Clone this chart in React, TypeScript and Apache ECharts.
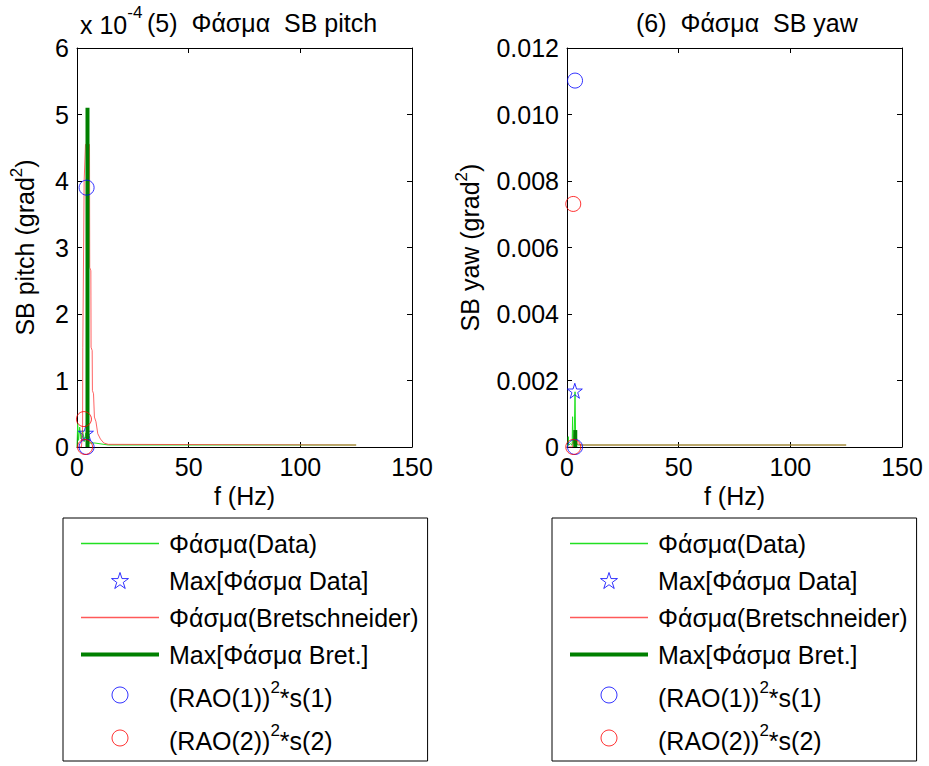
import React, { useEffect, useRef } from 'react';
import * as echarts from 'echarts';

const FONT = "'Liberation Sans', Arial, Helvetica, sans-serif";

// ---------- names ----------
const NAME_DATA = 'Φάσμα(Data)';
const NAME_MAXDATA = 'Max[Φάσμα Data]';
const NAME_BRET = 'Φάσμα(Bretschneider)';
const NAME_MAXBRET = 'Max[Φάσμα Bret.]';
const NAME_RAO1 = '(RAO(1))^2*s(1)';
const NAME_RAO2 = '(RAO(2))^2*s(2)';

// ---------- axis ticks ----------
const xTicks = [0, 50, 100, 150];
const pitchTicks = [0, 1, 2, 3, 4, 5, 6]; // x 10^-4
const yawTicks = [0, 0.002, 0.004, 0.006, 0.008, 0.01, 0.012];

// ---------- (5) SB pitch, values in units of 10^-4 grad^2 ----------
const pitchDataF = [0, 0.3, 0.7, 1.2, 1.8, 2.5, 3.2, 4.0, 4.8, 8, 14, 125];
const pitchDataV = [0, 0.35, 0.1, 0.3, 0.12, 0.25, 0.08, 0.21, 0.06, 0.06, 0.03, 0.03];
const pitchMaxDataF = [4.0];
const pitchMaxDataV = [0.21];
const pitchBretF = [0, 2.0, 2.5, 2.6, 3.2, 3.8, 5.6, 5.7, 6.2, 6.3, 6.8, 6.9, 7.4, 7.8, 8.5, 9.3, 10.5, 12, 14, 125];
const pitchBretV = [0, 0, 0.3, 1.5, 4.0, 4.55, 4.55, 2.7, 2.65, 1.5, 1.45, 0.85, 0.8, 0.45, 0.38, 0.2, 0.12, 0.06, 0.04, 0.03];
const pitchMaxBretF = [4.7, 4.7];
const pitchMaxBretV = [0, 5.1];
const pitchRao1F = [4.3, 4.3];
const pitchRao1V = [3.9, 0];
const pitchRao2F = [3.1, 3.6];
const pitchRao2V = [0.42, 0];

// ---------- (6) SB yaw, values in grad^2 ----------
const yawDataF = [0, 0.5, 0.6, 0.7, 1.5, 2.3, 2.5, 2.7, 3.2, 3.6, 3.9, 5, 7, 125];
const yawDataV = [0, 0.0001, 0.00031, 0.00005, 0.0001, 0.00005, 0.00091, 0.0001, 0.0002, 0.00166, 0.0001, 0.00006, 0.00006, 0.00006];
const yawMaxDataF = [3.5];
const yawMaxDataV = [0.00169];
const yawBretF = [0, 2.5, 3.3, 4.0, 4.6, 6.6, 125];
const yawBretV = [0, 0, 0.0004, 0.0004, 0.0001, 0.00006, 0.00006];
const yawMaxBretF = [3.7, 3.7];
const yawMaxBretV = [0, 0.00051];
const yawRao1F = [3.6, 3.6];
const yawRao1V = [0.01102, 0];
const yawRao2F = [2.8, 2.8];
const yawRao2V = [0.00731, 0];

const pairs = (xs: number[], ys: number[]) => xs.map((x, i) => [x, ys[i]]);

const STAR = 'path://M50,2 L61.2,36.2 L97.6,36.2 L68.2,57.6 L79.4,91.8 L50,70.6 L20.6,91.8 L31.8,57.6 L2.4,36.2 L38.8,36.2 Z';

const GRIDS = [
  { left: 77, top: 48, width: 335, height: 399 },
  { left: 567, top: 48, width: 335, height: 399 },
];

const GREEN_LIGHT = '#22e022';
const RED = '#ff3030';

function buildSeries(g: number, d: {
  dF: number[]; dV: number[]; mF: number[]; mV: number[];
  bF: number[]; bV: number[]; mbF: number[]; mbV: number[];
  r1F: number[]; r1V: number[]; r2F: number[]; r2V: number[];
}) {
  const ax = { xAxisIndex: g * 2, yAxisIndex: g * 2 };
  return [
    { ...ax, name: NAME_DATA, type: 'line', symbol: 'none', showSymbol: false, data: pairs(d.dF, d.dV),
      lineStyle: { color: GREEN_LIGHT, width: 1 }, itemStyle: { color: GREEN_LIGHT }, z: 2 },
    { ...ax, name: NAME_MAXDATA, type: 'scatter', symbol: STAR, symbolSize: 15, data: pairs(d.mF, d.mV),
      itemStyle: { color: 'rgba(0,0,0,0)', borderColor: '#0000ff', borderWidth: 1 }, z: 3 },
    { ...ax, name: NAME_BRET, type: 'line', symbol: 'none', showSymbol: false, data: pairs(d.bF, d.bV),
      lineStyle: { color: RED, width: 1, opacity: 0.75 }, itemStyle: { color: RED }, z: 4 },
    { ...ax, name: NAME_MAXBRET, type: 'line', symbol: 'none', showSymbol: false, data: pairs(d.mbF, d.mbV),
      lineStyle: { color: '#008000', width: 4 }, itemStyle: { color: '#008000' }, z: 5 },
    { ...ax, name: NAME_RAO1, type: 'scatter', symbol: 'circle', symbolSize: 15, data: pairs(d.r1F, d.r1V),
      itemStyle: { color: 'rgba(0,0,0,0)', borderColor: '#0000ff', borderWidth: 1 }, z: 6 },
    { ...ax, name: NAME_RAO2, type: 'scatter', symbol: 'circle', symbolSize: 15, data: pairs(d.r2F, d.r2V),
      itemStyle: { color: 'rgba(0,0,0,0)', borderColor: '#ff0000', borderWidth: 1 }, z: 7 },
  ];
}

const axisLineStyle = { lineStyle: { color: '#000', width: 1 } };
const labelStyle = { color: '#000', fontSize: 25, fontFamily: FONT };

// rich text styles: base token and raised superscript token (both bottom-aligned)
const base = (lh: number, extra: object = {}) => ({
  fontSize: 25, lineHeight: lh, verticalAlign: 'bottom', color: '#000', fontFamily: FONT, ...extra,
});
const sup = (raise: number) => ({
  fontSize: 17, lineHeight: 17, verticalAlign: 'bottom', padding: [0, 0, raise, 0], color: '#000', fontFamily: FONT,
});

function xAxes(g: number) {
  const b = {
    gridIndex: g, type: 'value', min: xTicks[0], max: xTicks[xTicks.length - 1], interval: 50,
    splitLine: { show: false }, axisLine: { show: true, onZero: false, ...axisLineStyle },
    axisTick: { show: true, inside: true, length: 5, lineStyle: { color: '#000' } },
  };
  return [
    { ...b, position: 'bottom', axisLabel: { ...labelStyle, margin: 7 },
      name: 'f (Hz)', nameLocation: 'middle', nameGap: 36,
      nameTextStyle: { color: '#000', fontSize: 25, fontFamily: FONT } },
    { ...b, position: 'top', axisLabel: { show: false } },
  ];
}

function yAxes(g: number, ticks: number[], interval: number, name: string, gap: number, fmt: (v: number) => string) {
  const b = {
    gridIndex: g, type: 'value', min: ticks[0], max: ticks[ticks.length - 1], interval,
    splitLine: { show: false }, axisLine: { show: true, onZero: false, ...axisLineStyle },
    axisTick: { show: true, inside: true, length: 5, lineStyle: { color: '#000' } },
  };
  return [
    { ...b, position: 'left', axisLabel: { ...labelStyle, margin: 8, formatter: fmt },
      name, nameLocation: 'middle', nameGap: gap, nameRotate: 90,
      nameTextStyle: {
        color: '#000', fontFamily: FONT,
        rich: { t: base(30), s: sup(12) },
      } },
    { ...b, position: 'right', axisLabel: { show: false } },
  ];
}

function legendFormatter(name: string) {
  const m = name.match(/^(.*)\^2(.*)$/);
  if (m) return `{f|${m[1]}}{s|2}{r|${m[2]}}`;
  return `{p|${name}}`;
}

const hiddenSymbol = { opacity: 0 };

function legend(left: number) {
  return {
    left, top: 518, orient: 'vertical', selectedMode: false,
    itemWidth: 78, itemHeight: 16, itemGap: 12,
    padding: [13, 9, 8, 16], borderColor: '#000', borderWidth: 1, backgroundColor: '#fff',
    formatter: legendFormatter,
    textStyle: {
      color: '#000', fontFamily: FONT, fontSize: 25,
      rich: {
        p: base(25, { verticalAlign: 'middle', padding: [0, 0, 0, 5] }),
        f: base(30, { padding: [0, 0, 0, 5] }),
        r: base(30),
        s: sup(14),
      },
    },
    data: [
      { name: NAME_DATA, itemStyle: hiddenSymbol, lineStyle: { color: GREEN_LIGHT, width: 1.5, opacity: 1 } },
      { name: NAME_MAXDATA, icon: STAR, itemStyle: { color: 'rgba(0,0,0,0)', borderColor: '#0000ff', borderWidth: 1 } },
      { name: NAME_BRET, itemStyle: hiddenSymbol, lineStyle: { color: RED, width: 1.5, opacity: 0.8 } },
      { name: NAME_MAXBRET, itemStyle: hiddenSymbol, lineStyle: { color: '#008000', width: 4, opacity: 1 } },
      { name: NAME_RAO1, icon: 'circle', itemStyle: { color: 'rgba(0,0,0,0)', borderColor: '#0000ff', borderWidth: 1 } },
      { name: NAME_RAO2, icon: 'circle', itemStyle: { color: 'rgba(0,0,0,0)', borderColor: '#ff0000', borderWidth: 1 } },
    ],
  };
}

export default function App() {
  const ref = useRef<HTMLDivElement>(null);
  useEffect(() => {
    document.body.style.margin = '0';
    if (!ref.current) return;
    const chart = echarts.init(ref.current, undefined, { renderer: 'svg' });
    const titleText = { color: '#000', fontSize: 25, fontWeight: 'normal', fontFamily: FONT };
    chart.setOption({
      animation: false,
      backgroundColor: '#fff',
      title: [
        { text: '{a|x 10}{s|-4}', left: 80, top: 7, padding: 0,
          textStyle: { ...titleText, rich: { a: base(30), s: sup(16) } } },
        { text: '(5)  Φάσμα  SB pitch', left: 147, top: 10, padding: 0, textStyle: titleText },
        { text: '(6)  Φάσμα  SB yaw', left: 636, top: 10, padding: 0, textStyle: titleText },
      ],
      grid: GRIDS.map((g) => ({ ...g, containLabel: false })),
      xAxis: [...xAxes(0), ...xAxes(1)],
      yAxis: [
        ...yAxes(0, pitchTicks, 1, '{t|SB pitch (grad}{s|2}{t|)}', 40, (v) => String(v)),
        ...yAxes(1, yawTicks, 0.002, '{t|SB yaw (grad}{s|2}{t|)}', 85, (v) => (v === 0 ? '0' : v.toFixed(3))),
      ],
      legend: [legend(63), legend(552)],
      series: [
        ...buildSeries(0, {
          dF: pitchDataF, dV: pitchDataV, mF: pitchMaxDataF, mV: pitchMaxDataV,
          bF: pitchBretF, bV: pitchBretV, mbF: pitchMaxBretF, mbV: pitchMaxBretV,
          r1F: pitchRao1F, r1V: pitchRao1V, r2F: pitchRao2F, r2V: pitchRao2V,
        }),
        ...buildSeries(1, {
          dF: yawDataF, dV: yawDataV, mF: yawMaxDataF, mV: yawMaxDataV,
          bF: yawBretF, bV: yawBretV, mbF: yawMaxBretF, mbV: yawMaxBretV,
          r1F: yawRao1F, r1V: yawRao1V, r2F: yawRao2F, r2V: yawRao2V,
        }),
      ],
    });
    return () => chart.dispose();
  }, []);
  return <div ref={ref} style={{ width: 929, height: 766 }} />;
}
